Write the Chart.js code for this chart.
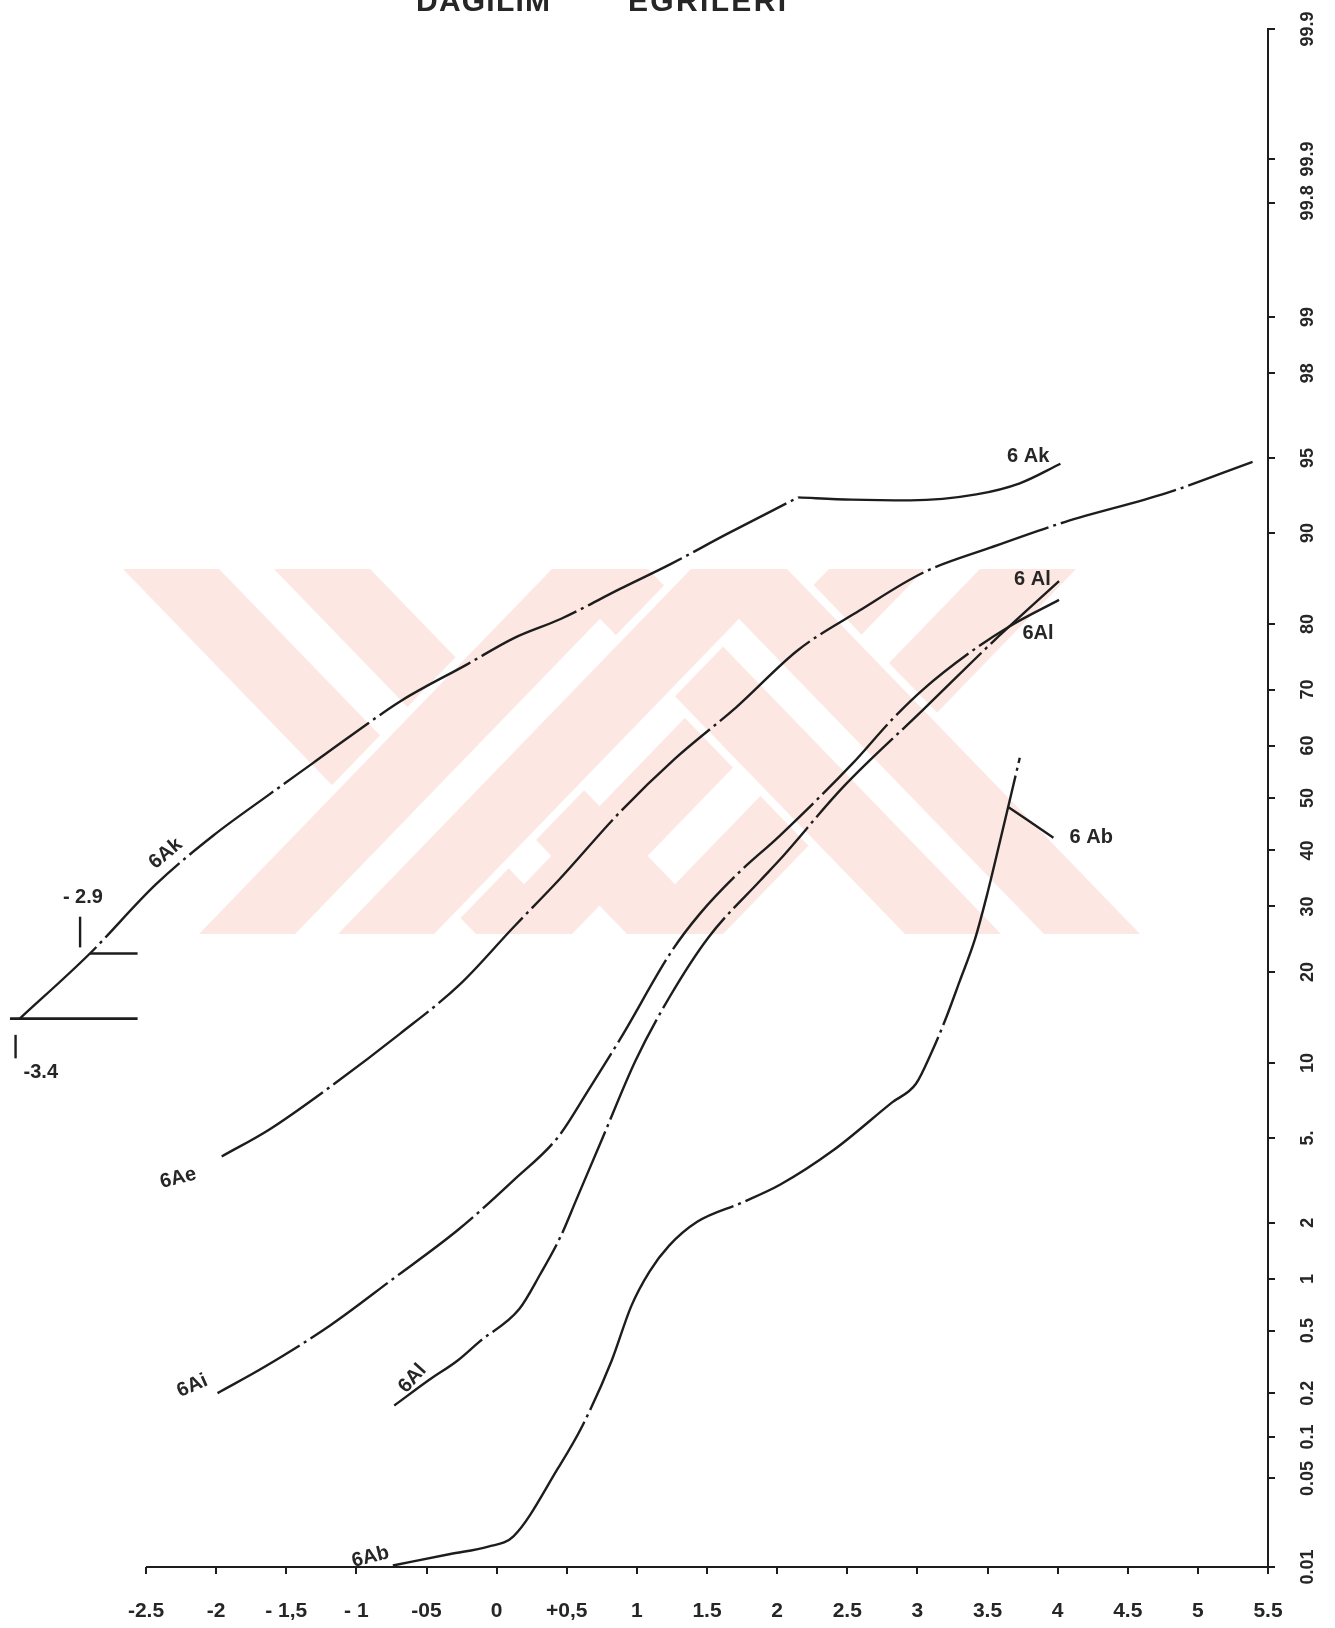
<!DOCTYPE html>
<html lang="tr">
<head>
<meta charset="utf-8">
<title>Dağılım Eğrileri</title>
<script src="https://cdn.jsdelivr.net/npm/chart.js@4/dist/chart.umd.min.js"></script>
<style>
  html, body { margin: 0; padding: 0; background: #fff; overflow: hidden; }
  canvas { display: block; }
</style>
</head>
<body>
<canvas id="grafico" width="1335" height="1628"></canvas>
<script>
// eksen: phi (yatay), kümülatif yüzde (olasılık ölçeği, sağda)
const xTicks = [-2.5, -2, -1.5, -1, -0.5, 0, 0.5, 1, 1.5, 2, 2.5, 3, 3.5, 4, 4.5, 5, 5.5];
const xTickLabels = ['-2.5', '-2', '- 1,5', '- 1', '-05', '0', '+0,5', '1', '1.5', '2', '2.5', '3', '3.5', '4', '4.5', '5', '5.5'];
const yTicks = [0.01, 0.05, 0.1, 0.2, 0.5, 1, 2, 5, 10, 20, 30, 40, 50, 60, 70, 80, 90, 95, 98, 99, 99.8, 99.9, 99.99];
const yTickLabels = ['0.01', '0.05', '0.1', '0.2', '0.5', '1', '2', '5.', '10', '20', '30', '40', '50', '60', '70', '80', '90', '95', '98', '99', '99.8', '99.9', '99.9'];

// 6Ak (kırılma noktasında iki parça)
const akPhiA = [-3.4, -2.9, -2.43, -2.02, -1.62, -1.31, -1.03, -0.68, -0.21, 0.12, 0.46, 0.88, 1.24, 1.64, 2.15];
const akPctA = [14.3, 22.6, 33.8, 42.8, 50.7, 56.7, 62.0, 68.1, 74.1, 78.0, 80.7, 84.4, 87.1, 89.9, 92.7];
const akPhiB = [2.15, 2.53, 2.95, 3.42, 3.73, 4.02];
const akPctB = [92.7, 92.55, 92.5, 92.9, 93.6, 94.7];

// 6Ae
const aePhi = [-1.96, -1.62, -1.19, -0.69, -0.26, 0.12, 0.44, 0.88, 1.27, 1.71, 2.15, 2.59, 3.04, 3.52, 4.05, 4.78, 5.39];
const aePct = [4.15, 5.45, 8.1, 12.7, 18.4, 26.6, 34.5, 47.3, 57.5, 67.0, 76.3, 81.8, 86.2, 88.7, 90.9, 93.0, 94.8];

// 6Ai
const aiPhi = [-1.99, -1.66, -1.19, -0.74, -0.27, 0.12, 0.44, 0.65, 0.89, 1.25, 1.45, 1.71, 2.02, 2.54, 2.82, 3.04, 3.38, 3.65, 4.01];
const aiPct = [0.2, 0.295, 0.535, 1.0, 1.85, 3.22, 5.07, 7.81, 12.4, 23.0, 28.8, 35.5, 42.8, 56.7, 64.8, 70.0, 76.0, 79.6, 83.1];

// 6Al
const alPhi = [-0.73, -0.48, -0.28, -0.12, 0.16, 0.31, 0.46, 0.57, 0.75, 0.99, 1.23, 1.51, 1.88, 2.02, 2.47, 3.04, 3.58, 4.01];
const alPct = [0.165, 0.245, 0.325, 0.43, 0.67, 1.06, 1.72, 2.62, 4.92, 10.2, 16.7, 25.0, 34.5, 38.3, 52.1, 66.5, 78.3, 85.3];

// 6Ab
const abPhi = [-0.74, -0.33, -0.06, 0.12, 0.44, 0.61, 0.82, 0.96, 1.09, 1.23, 1.43, 1.75, 2.02, 2.4, 2.82, 2.99, 3.1, 3.2, 3.3, 3.41, 3.5, 3.59, 3.66, 3.73];
const abPct = [0.0103, 0.0128, 0.0147, 0.0178, 0.06, 0.119, 0.325, 0.7, 1.1, 1.52, 2.02, 2.52, 3.07, 4.42, 7.05, 8.35, 10.9, 14.2, 18.7, 24.7, 32.3, 41.8, 49.7, 57.7];

// 6 Ab etiket çizgisi
const abLeaderPhi = [3.65, 3.97];
const abLeaderPct = [48.2, 42.4];

// sol kenardaki -2.9 / -3.4 işaretleri
const mark34Phi = [-3.47, -2.56];
const mark34Pct = [14.3, 14.3];
const mark29Phi = [-2.9, -2.56];
const mark29Pct = [22.6, 22.6];
const tick29Phi = [-2.97, -2.97];
const tick29Pct = [23.5, 28.3];
const tick34Phi = [-3.43, -3.43];
const tick34Pct = [10.4, 12.6];

const curveLabels = [
  { text: '6Ak', phi: -2.36, pct: 39.4, angle: -40 },
  { text: '6 Ak', phi: 3.79, pct: 95.05, angle: 0 },
  { text: '6Ae', phi: -2.27, pct: 3.3, angle: -14 },
  { text: '6Ai', phi: -2.17, pct: 0.223, angle: -24 },
  { text: '6Al', phi: -0.6, pct: 0.25, angle: -48 },
  { text: '6Ab', phi: -0.9, pct: 0.0121, angle: -14 },
  { text: '6 Al', phi: 3.82, pct: 85.5, angle: 0 },
  { text: '6Al', phi: 3.86, pct: 78.7, angle: 0 },
  { text: '6 Ab', phi: 4.24, pct: 42.5, angle: 0 },
  { text: '- 2.9', phi: -2.95, pct: 31.6, angle: 0 },
  { text: '-3.4', phi: -3.25, pct: 9.2, angle: 0 },
];

const INK = '#1d1d1d';

// arka plandaki soluk damga: iki V ve iki Λ şeridi (piksel)
const damga = {
  renk: '#fce7e2',
  ust: 569,
  alt: 934,
  kayma: 353,
  yariGenislik: 48,
  bosluk: 16,
  vAltlar: [524, 675],
  lambdaUstler: [600, 739],
};

// ters normal dağılım (Acklam yaklaşımı), olasılık ölçeği için
function probit(p) {
  const a = [-39.69683028665376, 220.9460984245205, -275.9285104469687, 138.357751867269, -30.66479806614716, 2.506628277459239];
  const b = [-54.47609879822406, 161.5858368580409, -155.6989798598866, 66.80131188771972, -13.28068155288572];
  const c = [-0.007784894002430293, -0.3223964580411365, -2.400758277161838, -2.549732539343734, 4.374664141464968, 2.938163982698783];
  const d = [0.007784695709041462, 0.3224671290700398, 2.445134137142996, 3.754408661907416];
  const plow = 0.02425;
  let q, r;
  if (p < plow) {
    q = Math.sqrt(-2 * Math.log(p));
    return (((((c[0] * q + c[1]) * q + c[2]) * q + c[3]) * q + c[4]) * q + c[5]) /
      ((((d[0] * q + d[1]) * q + d[2]) * q + d[3]) * q + 1);
  }
  if (p > 1 - plow) {
    q = Math.sqrt(-2 * Math.log(1 - p));
    return -(((((c[0] * q + c[1]) * q + c[2]) * q + c[3]) * q + c[4]) * q + c[5]) /
      ((((d[0] * q + d[1]) * q + d[2]) * q + d[3]) * q + 1);
  }
  q = p - 0.5;
  r = q * q;
  return (((((a[0] * r + a[1]) * r + a[2]) * r + a[3]) * r + a[4]) * r + a[5]) * q /
    (((((b[0] * r + b[1]) * r + b[2]) * r + b[3]) * r + b[4]) * r + 1);
}

function seri(phi, pct, opts) {
  return Object.assign({
    data: phi.map((x, i) => ({ x: x, y: probit(pct[i] / 100) })),
    borderColor: INK,
    borderWidth: 2.4,
    borderDash: [],
    cubicInterpolationMode: 'monotone',
    pointRadius: 0,
    fill: false,
  }, opts || {});
}

// harfleri iki x arasında eşit aralıkla yaz
function yayarakYaz(ctx, text, x0, x1, y) {
  let chars = Array.from(text);
  let widths = chars.map((ch) => ctx.measureText(ch).width);
  let total = widths.reduce((s, w) => s + w, 0);
  let gap = chars.length > 1 ? (x1 - x0 - total) / (chars.length - 1) : 0;
  let x = x0;
  chars.forEach((ch, i) => {
    ctx.fillText(ch, x, y);
    x += widths[i] + gap;
  });
}

// tepe noktası yukarıda (Λ) ya da aşağıda (V) olan şerit
function serit(ctx, merkez, yukari, w) {
  let { ust, alt, kayma } = damga;
  let tepeY = yukari ? ust : alt;
  let ucY = yukari ? alt : ust;
  let ic = yukari ? ust + (w * (alt - ust)) / kayma : alt - (w * (alt - ust)) / kayma;
  ctx.beginPath();
  ctx.moveTo(merkez - kayma - w, ucY);
  ctx.lineTo(merkez - w, tepeY);
  ctx.lineTo(merkez + w, tepeY);
  ctx.lineTo(merkez + kayma + w, ucY);
  ctx.lineTo(merkez + kayma - w, ucY);
  ctx.lineTo(merkez, ic);
  ctx.lineTo(merkez - kayma + w, ucY);
  ctx.closePath();
}

const zeminPlugin = {
  id: 'zemin',
  beforeDraw(chart) {
    let ctx = chart.ctx;
    let w = damga.yariGenislik;
    let [l1, l2] = damga.lambdaUstler;
    ctx.save();
    ctx.fillStyle = '#ffffff';
    ctx.fillRect(0, 0, chart.width, chart.height);

    ctx.beginPath();
    ctx.rect(0, damga.ust, chart.width, damga.alt - damga.ust);
    ctx.clip();
    ctx.fillStyle = damga.renk;
    damga.vAltlar.forEach((m) => {
      serit(ctx, m, false, w);
      ctx.fill();
    });
    // Λ şeritleri V'lerin üstünden geçer; aralarındaki boşluk beyaz
    ctx.fillStyle = '#ffffff';
    serit(ctx, (l1 + l2) / 2, true, (l2 - l1) / 2 + w + damga.bosluk / 2);
    ctx.fill();
    ctx.fillStyle = damga.renk;
    ctx.strokeStyle = '#ffffff';
    ctx.lineWidth = damga.bosluk;
    ctx.lineJoin = 'miter';
    damga.lambdaUstler.forEach((m) => {
      serit(ctx, m, true, w);
      ctx.stroke();
      ctx.fill();
    });
    ctx.restore();
  },
};

const eksenPlugin = {
  id: 'eksen',
  beforeDatasetsDraw(chart) {
    let ctx = chart.ctx;
    let xs = chart.scales.x;
    let y = chart.chartArea.bottom;
    ctx.save();
    ctx.strokeStyle = INK;
    ctx.lineWidth = 2;
    ctx.beginPath();
    ctx.moveTo(xs.getPixelForValue(xTicks[0]), y);
    ctx.lineTo(xs.getPixelForValue(xTicks[xTicks.length - 1]), y);
    ctx.stroke();
    ctx.restore();
  },
};

const yaziPlugin = {
  id: 'yazilar',
  afterDatasetsDraw(chart) {
    let ctx = chart.ctx;
    let xs = chart.scales.x;
    let ys = chart.scales.y;
    ctx.save();
    ctx.fillStyle = '#262626';
    ctx.font = 'bold 20px "Liberation Sans", Arial, sans-serif';
    ctx.textAlign = 'center';
    ctx.textBaseline = 'middle';
    curveLabels.forEach((l) => {
      ctx.save();
      ctx.translate(xs.getPixelForValue(l.phi), ys.getPixelForValue(probit(l.pct / 100)));
      ctx.rotate((l.angle * Math.PI) / 180);
      ctx.fillText(l.text, 0, 0);
      ctx.restore();
    });

    // başlık, sayfanın üst kenarında kesik
    ctx.font = 'bold 30px "Liberation Sans Narrow", "Liberation Sans", sans-serif';
    ctx.textAlign = 'left';
    ctx.textBaseline = 'alphabetic';
    yayarakYaz(ctx, 'DAĞILIM', 416, 550, 11);
    yayarakYaz(ctx, 'EĞRİLERİ', 628, 786, 11);
    ctx.restore();
  },
};

function criarGrafico() {
  const canvas = document.getElementById('grafico');
  let contexto = canvas.getContext('2d');

  new Chart(contexto, {
    type: 'line',
    data: {
      datasets: [
        seri(akPhiA, akPctA, { borderDash: [105, 5, 3, 5] }),
        seri(akPhiB, akPctB),
        seri(aePhi, aePct, { borderDash: [120, 5, 3, 5] }),
        seri(aiPhi, aiPct, { borderDash: [95, 5, 3, 5] }),
        seri(alPhi, alPct, { borderDash: [110, 5, 3, 5] }),
        seri(abPhi, abPct, { borderDash: [260, 5, 3, 5] }),
        seri(abLeaderPhi, abLeaderPct),
        seri(mark34Phi, mark34Pct, { borderWidth: 2.6 }),
        seri(mark29Phi, mark29Pct),
        seri(tick29Phi, tick29Pct),
        seri(tick34Phi, tick34Pct),
      ],
    },
    options: {
      responsive: false,
      animation: false,
      events: [],
      layout: { padding: { top: 29, left: 0, right: 0, bottom: 0 } },
      plugins: {
        legend: { display: false },
        tooltip: { enabled: false },
        title: { display: false },
      },
      scales: {
        x: {
          type: 'linear',
          min: -3.541,
          max: 5.5,
          afterBuildTicks: (scale) => {
            scale.ticks = xTicks.map((v) => ({ value: v }));
          },
          afterFit: (scale) => {
            scale.height = 61;
          },
          border: { display: false },
          grid: { display: true, drawOnChartArea: false, tickLength: 7, color: INK, lineWidth: 2 },
          ticks: {
            padding: 25,
            maxRotation: 0,
            autoSkip: false,
            color: '#262626',
            font: { family: '"Liberation Sans", Arial, sans-serif', size: 21, weight: 'bold' },
            callback: (value, index) => xTickLabels[index],
          },
        },
        y: {
          type: 'linear',
          position: 'right',
          min: probit(yTicks[0] / 100),
          max: probit(yTicks[yTicks.length - 1] / 100),
          afterBuildTicks: (scale) => {
            scale.ticks = yTicks.map((p) => ({ value: probit(p / 100) }));
          },
          afterFit: (scale) => {
            scale.width = 67;
          },
          border: { display: true, color: INK, width: 2 },
          grid: { display: true, drawOnChartArea: false, tickLength: 7, color: INK, lineWidth: 2 },
          ticks: {
            padding: 16,
            minRotation: 90,
            maxRotation: 90,
            crossAlign: 'center',
            autoSkip: false,
            color: '#262626',
            font: { family: '"Liberation Sans", Arial, sans-serif', size: 18, weight: 'bold' },
            callback: (value, index) => yTickLabels[index],
          },
        },
      },
    },
    plugins: [zeminPlugin, eksenPlugin, yaziPlugin],
  });
}

document.addEventListener('DOMContentLoaded', criarGrafico);
</script>
</body>
</html>
